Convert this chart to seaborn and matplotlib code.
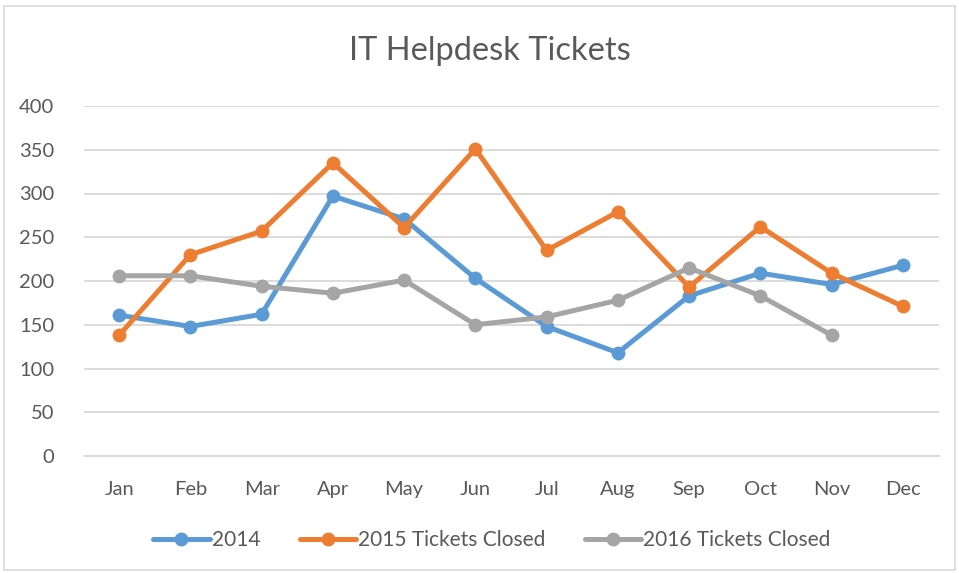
import matplotlib
matplotlib.use("Agg")
import matplotlib.pyplot as plt
import seaborn as sns
import pandas as pd
from matplotlib.patches import Rectangle

months = ["Jan", "Feb", "Mar", "Apr", "May", "Jun", "Jul", "Aug", "Sep", "Oct", "Nov", "Dec"]
s2014 = [161, 148, 162, 297, 271, 203, 148, 118, 183, 209, 196, 218]
s2015 = [138, 230, 257, 335, 261, 351, 235, 279, 193, 262, 209, 171]
s2016 = [206, 206, 194, 186, 201, 150, 159, 178, 215, 183, 138, None]
series_names = ["2014", "2015 Tickets Closed", "2016 Tickets Closed"]
colors = ["#5B9BD5", "#ED7D31", "#A5A5A5"]
yticks = [0, 50, 100, 150, 200, 250, 300, 350, 400]

rows = []
for name, vals in zip(series_names, [s2014, s2015, s2016]):
    for i, (m, v) in enumerate(zip(months, vals)):
        if v is not None:
            rows.append({"idx": i, "month": m, "value": v, "series": name})
df = pd.DataFrame(rows)

sns.set_theme(style="white")
plt.rcParams["font.family"] = ["Lato", "DejaVu Sans"]
text_color = "#595959"

fig = plt.figure(figsize=(9.59, 5.73), dpi=100)
ax = fig.add_axes([83.5 / 959, 1 - 456 / 573, (938.5 - 83.5) / 959, 350 / 573])

sns.lineplot(data=df, x="idx", y="value", hue="series", hue_order=series_names,
             palette=colors, marker="o", markersize=10, markeredgewidth=0,
             linewidth=3.6, ax=ax, legend=True, sort=False)

ax.set_xlim(-0.5, 11.5)
ax.set_ylim(0, 400)
ax.set_xticks(range(len(months)))
ax.set_xticklabels(months)
ax.set_yticks(yticks)
ax.set_yticklabels([str(t) for t in yticks])
ax.tick_params(axis="both", colors=text_color, labelsize=14.5, length=0)
ax.tick_params(axis="x", pad=18)
ax.tick_params(axis="y", pad=21)
ax.set_xlabel("")
ax.set_ylabel("")
ax.grid(axis="y", color="#D9D9D9", linewidth=1.3)
ax.set_axisbelow(True)
for sp in ["top", "right", "left"]:
    ax.spines[sp].set_visible(False)
ax.spines["bottom"].set_color("#D9D9D9")
ax.spines["bottom"].set_linewidth(1.3)

fig.text(489.5 / 959, 1 - 51 / 573, "IT Helpdesk Tickets", ha="center", va="center",
         fontsize=23.5, color=text_color)

handles, labels = ax.get_legend_handles_labels()
ax.legend(handles, labels, loc="center", bbox_to_anchor=(0.513, 1 - 540 / 573),
          bbox_transform=fig.transFigure, ncol=3, frameon=False, fontsize=15,
          labelcolor=text_color, handlelength=2.7, handletextpad=0.1,
          columnspacing=1.9)

fig.add_artist(Rectangle((4 / 959, 3 / 573), 951 / 959, 564 / 573,
                         transform=fig.transFigure, fill=False,
                         edgecolor="#D9D9D9", linewidth=1.2))

fig.savefig("out.png", dpi=100)
